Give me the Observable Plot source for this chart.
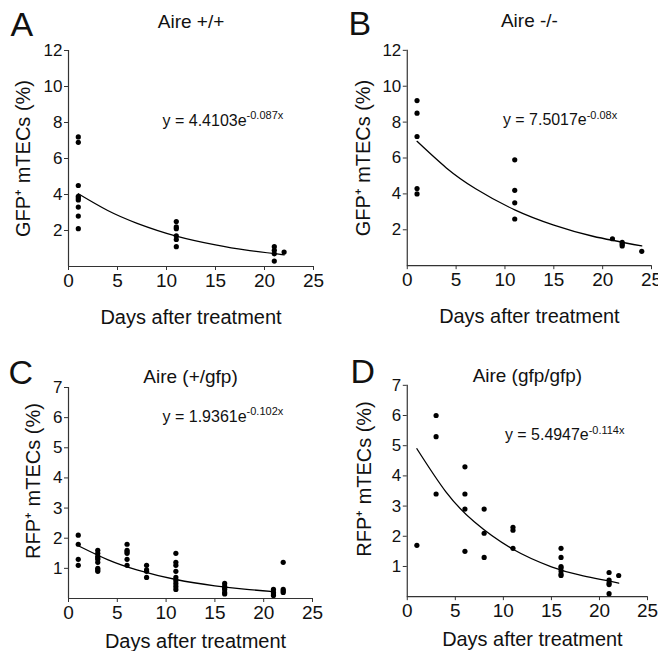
<!DOCTYPE html>
<html>
<head>
<meta charset="utf-8">
<script src="https://cdn.jsdelivr.net/npm/d3@7"></script>
<script src="https://cdn.jsdelivr.net/npm/@observablehq/plot@0.6"></script>
<style>
  body { margin: 0; background: #fff; }
  #fig { position: relative; width: 658px; height: 651px; overflow: hidden; background: #fff; }
  .panel { position: absolute; }
  .panel svg { overflow: visible; }
</style>
</head>
<body>
<div id="fig"></div>
<script>
// ---------- data ----------
const xTicks = [0, 5, 10, 15, 20, 25];
const gfpTicks = [2, 4, 6, 8, 10, 12];
const rfpTicks = [1, 2, 3, 4, 5, 6, 7];
const xLabel = "Days after treatment";

// Panel A: Aire +/+
const aTitle = "Aire +/+";
const aYLabel = "GFP⁺ mTECs (%)";
const aEquation = "y = 4.4103e";
const aExponent = "-0.087x";
const aDays   = [1, 1, 1, 1, 1, 1, 1, 1, 1, 11, 11, 11, 11, 11, 11, 21, 21, 21, 21, 22];
const aValues = [7.2, 6.9, 4.5, 3.9, 3.8, 3.7, 3.3, 2.8, 2.1, 2.5, 2.2, 2.1, 1.7, 1.5, 1.1, 1.1, 0.9, 0.7, 0.3, 0.8];
const aFitDays   = [1, 4, 7, 11, 15, 18, 22];
const aFitValues = [4.04, 3.11, 2.40, 1.69, 1.20, 0.92, 0.65];

// Panel B: Aire -/-
const bTitle = "Aire -/-";
const bYLabel = "GFP⁺ mTECs (%)";
const bEquation = "y = 7.5017e";
const bExponent = "-0.08x";
const bDays   = [1, 1, 1, 1, 1, 11, 11, 11, 11, 21, 22, 22, 22, 24];
const bValues = [9.2, 8.5, 7.2, 4.3, 4.0, 5.9, 4.2, 3.5, 2.6, 1.5, 1.3, 1.2, 1.1, 0.8];
const bFitDays   = [1, 4, 7, 11, 15, 19, 24];
const bFitValues = [6.93, 5.45, 4.29, 3.11, 2.26, 1.64, 1.10];

// Panel C: Aire (+/gfp)
const cTitle = "Aire (+/gfp)";
const cYLabel = "RFP⁺ mTECs (%)";
const cEquation = "y = 1.9361e";
const cExponent = "-0.102x";
const cDays   = [1, 1, 1, 1,
                 3, 3, 3, 3, 3, 3, 3, 3, 3,
                 6, 6, 6, 6, 6, 6,
                 8, 8, 8, 8,
                 11, 11, 11, 11, 11, 11, 11, 11, 11,
                 16, 16, 16, 16, 16, 16,
                 21, 21, 21, 21,
                 22, 22, 22, 22];
const cValues = [2.1, 1.8, 1.3, 1.1,
                 1.6, 1.5, 1.4, 1.35, 1.3, 1.2, 1.0, 0.95, 0.9,
                 1.8, 1.6, 1.55, 1.5, 1.3, 1.1,
                 1.1, 0.95, 0.9, 0.7,
                 1.5, 1.2, 1.1, 0.9, 0.7, 0.6, 0.5, 0.4, 0.3,
                 0.5, 0.4, 0.35, 0.3, 0.2, 0.15,
                 0.3, 0.2, 0.15, 0.1,
                 1.2, 0.3, 0.25, 0.2];
const cFitDays   = [1, 4, 7, 11, 15, 18, 21];
const cFitValues = [1.75, 1.29, 0.95, 0.63, 0.42, 0.31, 0.23];

// Panel D: Aire (gfp/gfp)
const dTitle = "Aire (gfp/gfp)";
const dYLabel = "RFP⁺ mTECs (%)";
const dEquation = "y = 5.4947e";
const dExponent = "-0.114x";
const dDays   = [1, 3, 3, 3, 6, 6, 6, 6, 8, 8, 8, 11, 11, 11,
                 16, 16, 16, 16, 16, 16, 16, 21, 21, 21, 21, 21, 22];
const dValues = [1.7, 6.0, 5.3, 3.4, 4.3, 3.4, 2.9, 1.5, 2.9, 2.1, 1.3, 2.3, 2.2, 1.6,
                 1.6, 1.3, 1.0, 0.95, 0.85, 0.75, 0.7, 0.8, 0.55, 0.45, 0.4, 0.1, 0.7];
const dFitDays   = [1, 4, 7, 11, 15, 18, 22];
const dFitValues = [4.90, 3.48, 2.47, 1.57, 0.99, 0.71, 0.45];

// ---------- layout ----------
const FONT = "'Liberation Sans', Arial, Helvetica, sans-serif";

const panels = [
  {letter: "A", title: aTitle, yLabel: aYLabel, equation: aEquation, exponent: aExponent,
   days: aDays, values: aValues, fitDays: aFitDays, fitValues: aFitValues,
   yMax: 12, yTicks: gfpTicks,
   left: 0, top: 0, mL: 68, mR: 16, mT: 50, mB: 59,
   letterDx: -58, letterDy: -15, titleDy: -23, eqDx: 94, eqDy: 75,
   xLabDx: 0, xLabDy: 57, yLabOff: 53, yLabDy: 0},
  {letter: "B", title: bTitle, yLabel: bYLabel, equation: bEquation, exponent: bExponent,
   days: bDays, values: bValues, fitDays: bFitDays, fitValues: bFitValues,
   yMax: 12, yTicks: gfpTicks,
   left: 330, top: 0, mL: 77, mR: 7, mT: 50, mB: 59,
   letterDx: -59, letterDy: -15, titleDy: -23, eqDx: 96, eqDy: 75,
   xLabDx: 0, xLabDy: 57, yLabOff: 52, yLabDy: 0},
  {letter: "C", title: cTitle, yLabel: cYLabel, equation: cEquation, exponent: cExponent,
   days: cDays, values: cValues, fitDays: cFitDays, fitValues: cFitValues,
   yMax: 7, yTicks: rfpTicks,
   left: 0, top: 325, mL: 68, mR: 17, mT: 62, mB: 52,
   letterDx: -60, letterDy: -4, titleDy: -5, eqDx: 94, eqDy: 34,
   xLabDx: 5, xLabDy: 49, yLabOff: 43, yLabDy: -12},
  {letter: "D", title: dTitle, yLabel: dYLabel, equation: dEquation, exponent: dExponent,
   days: dDays, values: dValues, fitDays: dFitDays, fitValues: dFitValues,
   yMax: 7, yTicks: rfpTicks,
   left: 330, top: 325, mL: 77, mR: 11, mT: 60, mB: 53,
   letterDx: -57, letterDy: -2, titleDy: -3, eqDx: 98, eqDy: 55,
   xLabDx: 5, xLabDy: 49, yLabOff: 51, yLabDy: -12}
];

const fig = document.getElementById("fig");

for (const p of panels) {
  const points = p.days.map((d, i) => ({day: d, value: p.values[i]}));
  const fit = p.fitDays.map((d, i) => ({day: d, value: p.fitValues[i]}));

  const chart = Plot.plot({
    width: 329,
    height: 325,
    marginLeft: p.mL, marginRight: p.mR, marginTop: p.mT, marginBottom: p.mB,
    style: {fontFamily: FONT, fontSize: "17px", color: "#111", background: "transparent", overflow: "visible"},
    x: {domain: [0, 25]},
    y: {domain: [0, p.yMax]},
    marks: [
      Plot.ruleY([0], {stroke: "#333", strokeWidth: 1.2}),
      Plot.ruleX([0], {stroke: "#333", strokeWidth: 1.2}),
      Plot.axisX({ticks: xTicks, tickFormat: d => String(d), tickSize: 4, tickPadding: 3, label: null, fontSize: 19, stroke: "#333"}),
      Plot.axisY({ticks: p.yTicks, tickFormat: d => String(d), tickSize: 4, tickPadding: 2, label: null, fontSize: 17, stroke: "#333"}),
      Plot.line(fit, {x: "day", y: "value", curve: "natural", stroke: "#000", strokeWidth: 1.3}),
      Plot.dot(points, {x: "day", y: "value", r: 2.6, fill: "#000", stroke: "none"}),
      Plot.text([p.title], {text: d => d, frameAnchor: "top", lineAnchor: "bottom", dy: p.titleDy, fontSize: 19, fill: "#111"}),
      Plot.text([p.letter], {text: d => d, frameAnchor: "top-left", textAnchor: "start", lineAnchor: "bottom", dx: p.letterDx, dy: p.letterDy, fontSize: 34, fill: "#111"}),
      Plot.text([p.equation], {text: d => d, frameAnchor: "top-left", textAnchor: "start", lineAnchor: "bottom", dx: p.eqDx, dy: p.eqDy, fontSize: 16, fill: "#111", className: "eq"}),
      Plot.text([xLabel], {text: d => d, frameAnchor: "bottom", textAnchor: "middle", lineAnchor: "bottom", dx: p.xLabDx, dy: p.xLabDy, fontSize: 20, fill: "#111"}),
      Plot.text([p.yLabel], {text: d => d, frameAnchor: "left", textAnchor: "middle", rotate: -90, lineAnchor: "top", dx: -p.yLabOff, dy: p.yLabDy, fontSize: 20, fill: "#111"})
    ]
  });

  // superscript exponent of the fitted equation
  d3.select(chart).select("g.eq text")
    .append("tspan")
    .attr("dy", "-0.6em")
    .attr("font-size", "11px")
    .text(p.exponent);

  const wrap = document.createElement("div");
  wrap.className = "panel";
  wrap.style.left = p.left + "px";
  wrap.style.top = p.top + "px";
  wrap.appendChild(chart);
  fig.appendChild(wrap);
}
</script>
</body>
</html>
